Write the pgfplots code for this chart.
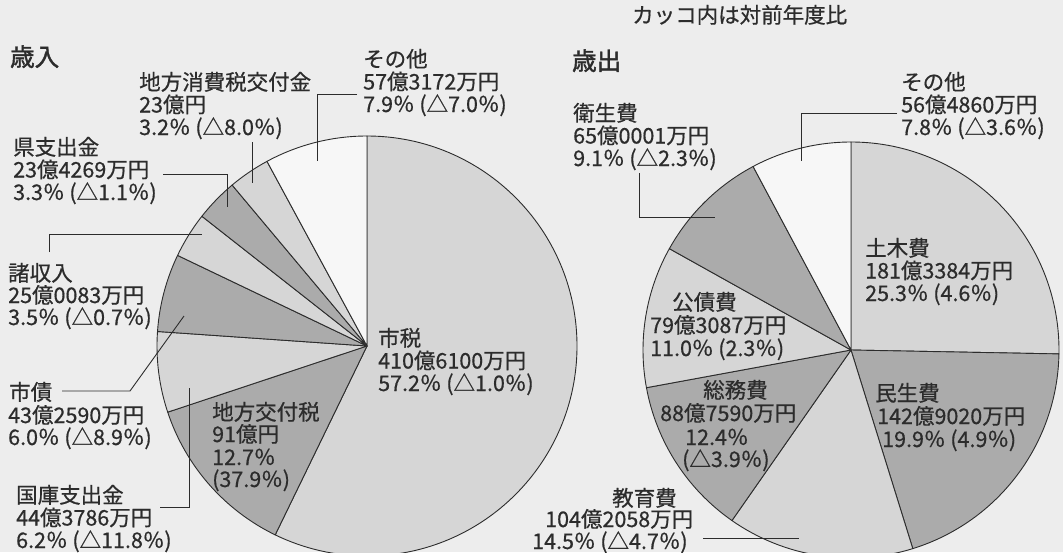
\documentclass[border=0pt]{standalone}
\usepackage{pgfplots}
\pgfplotsset{compat=1.18}
\usepackage{pgfplotstable}
\usepackage{fontspec}
\newfontfamily\cjk[FakeBold=0.6]{Noto Sans CJK JP}
\newfontfamily\cjkt[FakeBold=1.6]{Noto Sans CJK JP}
\definecolor{bg}{HTML}{EDEDED}
\definecolor{lt}{HTML}{D6D6D6}
\definecolor{dk}{HTML}{ABABAB}
\definecolor{wt}{HTML}{F7F7F7}
\definecolor{ink}{HTML}{2C2C2C}

% 歳入 (revenue) shares, clockwise from 12 o'clock
\pgfplotstableread{
pct col
57.2 lt
12.7 dk
6.2 lt
6.0 dk
3.5 lt
3.3 dk
3.2 lt
7.9 wt
}\revtable
% 歳出 (expenditure) shares
\pgfplotstableread{
pct col
25.3 lt
19.9 dk
14.5 lt
12.4 dk
11.0 lt
9.1 dk
7.8 wt
}\exptable

\newcommand\drawpie[4]{%
  \pgfplotstablegetrowsof{#1}%
  \pgfmathtruncatemacro\lastrow{\pgfplotsretval-1}%
  \gdef\cum{0}%
  \foreach \i in {0,...,\lastrow}{%
    \pgfplotstablegetelem{\i}{pct}\of{#1}\let\p\pgfplotsretval
    \pgfplotstablegetelem{\i}{col}\of{#1}\let\slicecol\pgfplotsretval
    \pgfmathsetmacro\aa{90-3.6*\cum}%
    \pgfmathsetmacro\bb{90-3.6*(\cum+\p)}%
    \filldraw[fill=\slicecol, draw=ink, line width=0.9pt, line join=round]
      (axis cs:#2,#3) -- ++(\aa:#4) arc[start angle=\aa, end angle=\bb, radius=#4] -- cycle;
    \pgfmathsetmacro\newcum{\cum+\p}%
    \xdef\cum{\newcum}%
  }%
}
\newcommand\tl[3]{\node[anchor=base west, inner sep=0pt, text=ink,
  font=\cjk\fontsize{21.5bp}{22bp}\selectfont] at (axis cs:#1,#2) {#3};}
\newcommand\ld[1]{\draw[ink, line width=0.9pt] #1;}

\begin{document}
\begin{tikzpicture}
\begin{axis}[width=1063bp, height=552bp, scale only axis,
  xmin=0, xmax=1063, ymin=0, ymax=552, y dir=reverse,
  hide axis, clip=false]
\pgfplotsextra{%
  \fill[bg] (axis cs:0,0) rectangle (axis cs:1063,552);
  \drawpie{\revtable}{367}{346}{210bp}
  \drawpie{\exptable}{851}{350}{208bp}
  % titles
  \node[anchor=base west, inner sep=0pt, text=ink, font=\cjkt\fontsize{24.5bp}{26bp}\selectfont] at (axis cs:10,66) {歳入};
  \node[anchor=base west, inner sep=0pt, text=ink, font=\cjkt\fontsize{24.5bp}{26bp}\selectfont] at (axis cs:572,70) {歳出};
  \tl{632}{23}{カッコ内は対前年度比}
  % revenue labels
  \tl{363}{67}{その他}
  \tl{363}{89.5}{57億3172万円}
  \tl{363}{112}{7.9％ (△7.0％)}
  \tl{139}{90}{地方消費税交付金}
  \tl{139}{112.5}{23億円}
  \tl{139}{135}{3.2％ (△8.0％)}
  \tl{13}{155}{県支出金}
  \tl{13}{177.5}{23億4269万円}
  \tl{13}{200}{3.3％ (△1.1％)}
  \tl{8}{281}{諸収入}
  \tl{8}{303}{25億0083万円}
  \tl{8}{325}{3.5％ (△0.7％)}
  \tl{9}{400}{市債}
  \tl{8}{423}{43億2590万円}
  \tl{8}{445}{6.0％ (△8.9％)}
  \tl{16}{503}{国庫支出金}
  \tl{16}{525.5}{44億3786万円}
  \tl{16}{548}{6.2％ (△11.8％)}
  \tl{378}{346}{市税}
  \tl{378}{368.5}{410億6100万円}
  \tl{378}{391}{57.2％ (△1.0％)}
  \tl{212}{420}{地方交付税}
  \tl{212}{442}{91億円}
  \tl{212}{465}{12.7％}
  \tl{212}{487}{(37.9％)}
  % expenditure labels
  \tl{901}{90}{その他}
  \tl{901}{112.5}{56億4860万円}
  \tl{901}{135}{7.8％ (△3.6％)}
  \tl{573}{121}{衛生費}
  \tl{573}{143.5}{65億0001万円}
  \tl{573}{166}{9.1％ (△2.3％)}
  \tl{865}{256}{土木費}
  \tl{865}{278.5}{181億3384万円}
  \tl{865}{301}{25.3％ (4.6％)}
  \tl{672}{310}{公債費}
  \tl{650}{333}{79億3087万円}
  \tl{650}{356}{11.0％ (2.3％)}
  \tl{703}{398}{総務費}
  \tl{660}{421}{88億7590万円}
  \tl{685}{445}{12.4％}
  \tl{682}{467}{(△3.9％)}
  \tl{875}{401}{民生費}
  \tl{877}{424}{142億9020万円}
  \tl{882}{447}{19.9％ (4.9％)}
  \tl{612}{506}{教育費}
  \tl{545}{527}{104億2058万円}
  \tl{532}{549}{14.5％ (△4.7％)}
  % leader lines
  \ld{(axis cs:357,94) -- (axis cs:317,94) -- (axis cs:317,161)}
  \ld{(axis cs:252,142) -- (axis cs:252,183)}
  \ld{(axis cs:163,174) -- (axis cs:227,174) -- (axis cs:227,207)}
  \ld{(axis cs:49,252) -- (axis cs:49,234) -- (axis cs:202,234)}
  \ld{(axis cs:62,391) -- (axis cs:130,391) -- (axis cs:184,316)}
  \ld{(axis cs:160,507) -- (axis cs:189,507) -- (axis cs:189,388)}
  \ld{(axis cs:897,113) -- (axis cs:801,113) -- (axis cs:801,161)}
  \ld{(axis cs:639,173) -- (axis cs:639,217) -- (axis cs:715,217)}
  \ld{(axis cs:703,538) -- (axis cs:799,538)}
}
\end{axis}
\pgfresetboundingbox
\path (current axis.south west) rectangle (current axis.north east);
\end{tikzpicture}
\end{document}
